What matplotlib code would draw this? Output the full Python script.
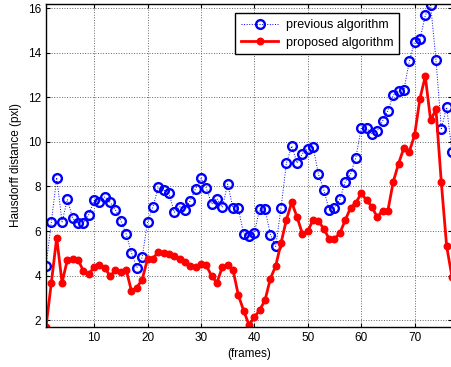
import numpy as np
import matplotlib
matplotlib.use("Agg")
import matplotlib.pyplot as plt

plt.rcParams["font.family"] = ["Liberation Sans", "DejaVu Sans"]

frames = list(range(1, 78))

# previous algorithm (blue circles, dotted)
previous = [
    4.41, 6.41, 8.40, 6.41, 7.42, 6.57, 6.35, 6.38, 6.74, 7.38,
    7.29, 7.54, 7.29, 6.95, 6.47, 5.87, 5.02, 4.35, 4.81, 6.41,
    7.06, 7.96, 7.84, 7.73, 6.84, 7.09, 6.95, 7.36, 7.90, 8.36,
    7.93, 7.21, 7.46, 7.06, 8.11, 7.04, 7.02, 5.87, 5.78, 5.93,
    6.99, 6.99, 5.84, 5.31, 7.04, 9.05, 9.82, 9.05, 9.48, 9.69,
    9.77, 8.55, 7.85, 6.95, 7.04, 7.42, 8.20, 8.55, 9.30, 10.61,
    10.61, 10.37, 10.49, 10.94, 11.41, 12.10, 12.31, 12.35, 13.62, 14.51,
    14.61, 15.69, 16.15, 13.69, 10.60, 11.56, 9.56,
]

# proposed algorithm (red filled dots, solid)
proposed = [
    1.70, 3.68, 5.70, 3.68, 4.71, 4.72, 4.71, 4.20, 4.06, 4.38,
    4.46, 4.35, 3.97, 4.23, 4.16, 4.26, 3.30, 3.46, 3.82, 4.74,
    4.76, 5.05, 5.02, 4.98, 4.86, 4.76, 4.60, 4.41, 4.38, 4.50,
    4.46, 3.97, 3.68, 4.38, 4.46, 4.26, 3.12, 2.42, 1.78, 2.12,
    2.45, 2.89, 3.86, 4.43, 5.46, 6.51, 7.29, 6.62, 5.87, 5.98,
    6.51, 6.44, 6.10, 5.65, 5.65, 5.90, 6.48, 7.04, 7.26, 7.69,
    7.39, 7.09, 6.62, 6.92, 6.92, 8.21, 9.03, 9.74, 9.56, 10.31,
    11.95, 12.95, 10.97, 11.46, 8.18, 5.31, 3.94,
]

fig = plt.figure(figsize=(4.52, 3.67), dpi=100)
ax = fig.add_axes([0.1018, 0.1098, 0.8982, 0.8793])

ax.plot(frames, previous, color="blue", linestyle=":", linewidth=0.7,
        marker="o", markersize=6.3, markerfacecolor="none",
        markeredgewidth=1.7, markeredgecolor="blue",
        label="previous algorithm")
ax.plot(frames, proposed, color="red", linestyle="-", linewidth=2.0,
        marker="o", markersize=4.7, markerfacecolor="red",
        markeredgecolor="red", label="proposed algorithm")

ax.set_xlim(1, 77)
ax.set_ylim(1.7, 16.2)
ax.set_xticks([10, 20, 30, 40, 50, 60, 70])
ax.set_yticks([2, 4, 6, 8, 10, 12, 14, 16])
# matlab-like dotted grid
ax.grid(True, linestyle=":", color="0.4", linewidth=0.7)
ax.tick_params(direction="in", top=True, right=True, labelsize=8.5,
               length=3, width=0.8)
for s in ax.spines.values():
    s.set_linewidth(1.0)

ax.set_xlabel("(frames)", fontsize=8.5, labelpad=3)
ax.set_ylabel("Hausdorff distance (pxl)", fontsize=8.5, labelpad=4)

leg = ax.legend(loc="upper left", bbox_to_anchor=(0.466, 0.971),
                borderaxespad=0, fontsize=9, handlelength=3.0,
                fancybox=False, framealpha=1, edgecolor="black",
                borderpad=0.45, labelspacing=0.45, handletextpad=0.6)
leg.get_frame().set_linewidth(1.0)

fig.savefig("out.png", dpi=100)
